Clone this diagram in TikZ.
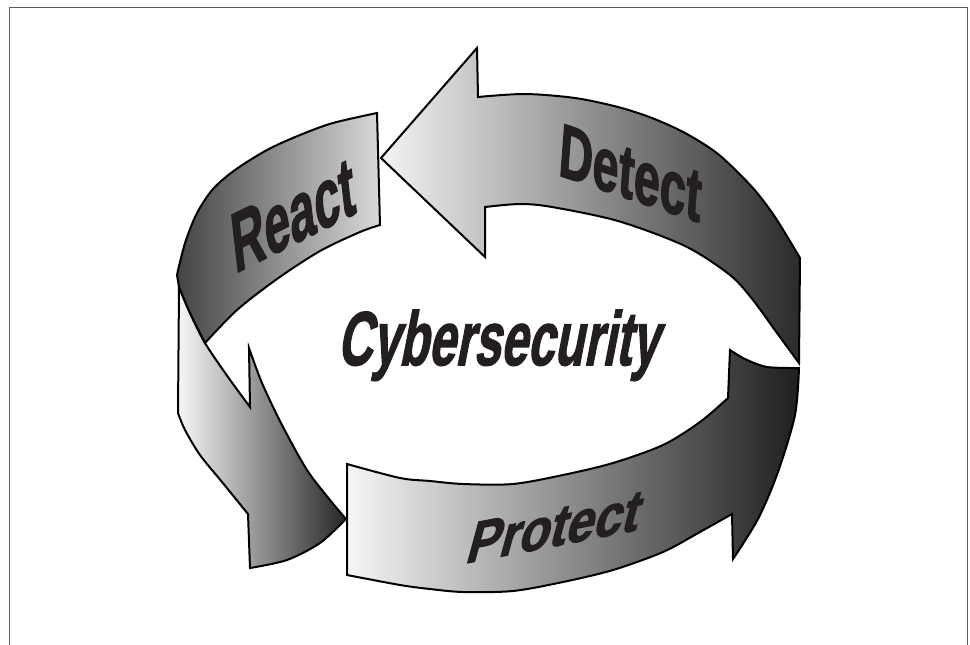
\documentclass[tikz,border=0pt]{standalone}
\usepackage{fontspec}
\setmainfont{Liberation Sans}
\newfontfamily\heavyfont{Liberation Sans Bold}[FakeBold=2]
\definecolor{txtc}{HTML}{231F20}
\definecolor{framec}{HTML}{5A5A5A}
\definecolor{dl}{HTML}{F4F4F4}
\definecolor{dr}{HTML}{2B2B2B}
\definecolor{pl}{HTML}{F6F6F6}
\definecolor{pr}{HTML}{1F1F1F}
\definecolor{rll}{HTML}{F7F7F7}
\definecolor{rlr}{HTML}{262626}
\definecolor{rdl}{HTML}{444444}
\definecolor{rdr}{HTML}{D9D9D9}
\begin{document}
\begin{tikzpicture}[x=1pt,y=-1pt,
  shp/.style={draw=black, line width=2pt, line join=miter},
  lbl/.style={inner sep=0pt, anchor=base west, transform shape, text=txtc}]
\useasboundingbox (0,0) rectangle (970,645);
% frame
\draw[framec, line width=1pt] (9.5,645) -- (9.5,7.5) -- (967.5,7.5) -- (967.5,645);
% Detect arrow
\path[shp, left color=dl, right color=dr]
 (381,158) -- (477,48) -- (478,97)
 -- plot[smooth] coordinates {(478,97) (525,94) (575,98) (618,107) (652,118) (685,133) (718,154) (752,187) (775,217) (800,258)}
 -- (799,363)
 -- plot[smooth] coordinates {(799,363) (777,333) (753,300) (730,275) (685,246) (618,221) (552,207) (520,204) (485,207)}
 -- (485,257) -- cycle;
% Protect arrow
\path[shp, left color=pl, right color=pr]
 (347,464)
 -- plot[smooth] coordinates {(347,464) (400,478) (430,481) (463,484) (513,484) (563,475) (613,463) (663,445) (700,422) (728,398)}
 -- (730,350)
 -- plot[smooth] coordinates {(730,350) (745,359) (767,367) (799,368)}
 -- plot[smooth] coordinates {(799,368) (795,415) (778,472) (758,519) (733,559)}
 -- (732,514)
 -- plot[smooth] coordinates {(732,514) (700,532) (663,552) (613,570) (563,582) (513,591) (463,592) (430,589) (400,585) (347,575)}
 -- cycle;
% React light arrow
\path[shp, left color=rll, right color=rlr]
 (179,287) -- (178,413)
 -- plot[smooth] coordinates {(178,413) (185,430) (200,455) (222,482) (248,514)}
 -- (250,568)
 -- plot[smooth] coordinates {(250,568) (287,560) (320,543) (346,519)}
 -- plot[smooth] coordinates {(346,519) (330,500) (307,470) (282,425) (262,383) (249,348)}
 -- (250,407)
 -- plot[smooth] coordinates {(250,407) (228,377) (205,343) (190,313) (179,287)}
 -- cycle;
% React dark band
\path[shp, left color=rdl, right color=rdr]
 (377,113) -- (380,225)
 -- plot[smooth] coordinates {(380,225) (360,232) (320,251) (277,279) (237,310) (205,343)}
 -- plot[smooth] coordinates {(205,343) (190,313) (179,287)}
 -- (177,275)
 -- plot[smooth] coordinates {(177,275) (180,262) (186,240) (197,213) (213,189) (235,170) (267,150) (300,135) (333,123) (377,113)}
 -- cycle;
% labels
\node[lbl, shift={(235,273.5)}, cm={0.56,0.28,-0.117,1.03,(0,0)}, font=\heavyfont\fontsize{80}{80}\selectfont] (react) at (0,0) {React};
\node[lbl, shift={(557.5,174.8)}, cm={0.64,-0.215,0.077,1.03,(0,0)}, font=\heavyfont\fontsize{72.6}{72.6}\selectfont] (detect) at (0,0) {Detect};
\node[lbl, shift={(464,563.7)}, cm={0.86,0.167,0.28,1.03,(0,0)}, font=\heavyfont\fontsize{58}{58}\selectfont] (protect) at (0,0) {Protect};
\node[lbl, shift={(337,365)}, cm={0.65,0,0.2,1.03,(0,0)}, font=\heavyfont\fontsize{74}{74}\selectfont] (cyber) at (0,0) {Cybersecurity};
\end{tikzpicture}
\end{document}
